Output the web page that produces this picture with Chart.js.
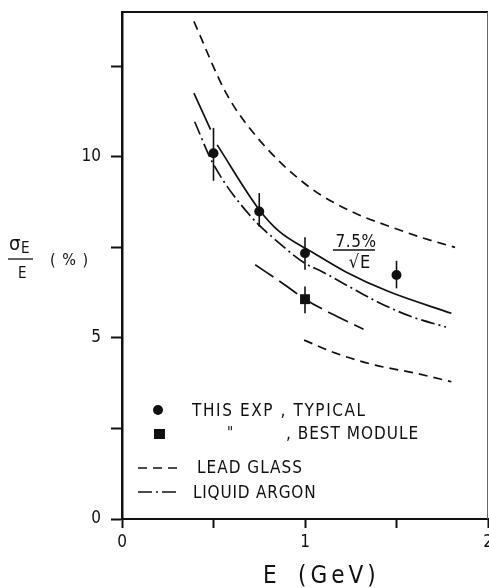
<!DOCTYPE html>
<html>
<head>
<meta charset="utf-8">
<script src="https://cdn.jsdelivr.net/npm/chart.js@4.4.1/dist/chart.umd.min.js"></script>
<style>
  html, body { margin: 0; padding: 0; background: #fff; }
  canvas { display: block; }
</style>
</head>
<body>
<canvas id="chart" width="489" height="588"></canvas>
<script>
// ── Data ──────────────────────────────────────────────────────
const xTickValues = [0, 0.5, 1, 1.5, 2];
const xTickLabels = ['0', '', '1', '', '2'];
const yTickValues = [0, 2.5, 5, 7.5, 10, 12.5];
const yTickLabels = ['0', '', '5', '', '10', ''];

// measured points, this experiment (typical modules)
const typicalE  = [0.5, 0.75, 1.0, 1.5];
const typicalV  = [10.10, 8.49, 7.34, 6.74];
const typicalLo = [9.34, 8.07, 6.88, 6.37];
const typicalHi = [10.80, 9.00, 7.78, 7.13];

// best module
const bestE  = [1.0];
const bestV  = [6.07];
const bestLo = [5.68];
const bestHi = [6.42];

// 7.5%/sqrt(E) curve (solid, broken at the first error bar)
const solidE = [0.393, 0.484, 0.50, 0.52, 0.75, 0.859, 1.049, 1.221, 1.457, 1.80];
const solidV = [11.76, 10.75, null, 10.33, 8.54, 7.94, 7.34, 6.83, 6.28, 5.68];

// liquid argon (dash-dot)
const argonE = [0.397, 0.496, 0.696, 0.859, 1.0, 1.094, 1.24, 1.402, 1.58, 1.77];
const argonV = [10.97, 9.83, 8.40, 7.62, 7.06, 6.83, 6.42, 5.98, 5.59, 5.30];

// lead glass, upper and lower (dashed)
const glassHiE = [0.393, 0.569, 0.75, 1.02, 1.275, 1.44, 1.62, 1.82];
const glassHiV = [13.74, 11.76, 10.47, 9.18, 8.44, 8.12, 7.80, 7.50];
const glassLoE = [0.995, 1.167, 1.384, 1.60, 1.80];
const glassLoV = [4.94, 4.58, 4.25, 4.03, 3.79];

// best module fit (long dashes)
const bestFitE = [0.728, 0.877, 1.0, 1.14, 1.32];
const bestFitV = [7.02, 6.51, 6.07, 5.68, 5.24];

// ── Helpers ───────────────────────────────────────────────────
const FONT = "'Liberation Sans Narrow', 'DejaVu Sans Condensed', 'Liberation Sans', sans-serif";
const INK = '#111';
const pts = (xs, ys) => xs.map((x, i) => ({ x, y: ys[i] }));

const curve = (data, dash) => ({
  data, showLine: true, pointRadius: 0, borderColor: INK, borderWidth: 1.7,
  borderDash: dash, cubicInterpolationMode: 'monotone', spanGaps: false, fill: false,
});

// ── Plugins: error bars, frame, texts ─────────────────────────
const errorBars = {
  id: 'errorBars',
  beforeDatasetsDraw(chart) {
    const { ctx, scales: { x, y } } = chart;
    ctx.save();
    ctx.strokeStyle = INK;
    ctx.lineWidth = 1.6;
    const draw = (es, lo, hi) => es.forEach((e, i) => {
      const px = x.getPixelForValue(e);
      ctx.beginPath();
      ctx.moveTo(px, y.getPixelForValue(lo[i]));
      ctx.lineTo(px, y.getPixelForValue(hi[i]));
      ctx.stroke();
    });
    draw(typicalE, typicalLo, typicalHi);
    draw(bestE, bestLo, bestHi);
    ctx.restore();
  },
};

function text(ctx, str, x, y, size, spacing = 0, align = 'left') {
  ctx.font = `${size}px ${FONT}`;
  ctx.letterSpacing = spacing + 'px';
  ctx.textAlign = align;
  ctx.fillText(str, x, y);
}

const decorations = {
  id: 'decorations',
  afterDraw(chart) {
    const { ctx, chartArea: a } = chart;
    ctx.save();
    ctx.fillStyle = INK;
    ctx.strokeStyle = INK;
    ctx.textBaseline = 'alphabetic';

    // frame: top and right
    ctx.lineWidth = 2;
    ctx.beginPath();
    ctx.moveTo(a.left, a.top);
    ctx.lineTo(a.right, a.top);
    ctx.stroke();
    ctx.strokeStyle = '#666';
    ctx.lineWidth = 1;
    ctx.beginPath();
    ctx.moveTo(a.right - 0.5, a.top);
    ctx.lineTo(a.right - 0.5, a.bottom);
    ctx.stroke();
    ctx.strokeStyle = INK;

    // legend
    ctx.beginPath();
    ctx.arc(158, 410, 5, 0, Math.PI * 2);
    ctx.fill();
    ctx.fillRect(154, 429, 11, 10);
    text(ctx, 'THIS EXP , TYPICAL', 192, 416, 17, 1.6);
    text(ctx, '"', 227, 438, 15);
    text(ctx, ', BEST MODULE', 286, 439, 17, 1.0);
    text(ctx, 'LEAD GLASS', 197, 473, 17, 1.0);
    text(ctx, 'LIQUID ARGON', 193, 498, 17, 0.8);

    ctx.lineWidth = 1.5;
    ctx.setLineDash([9, 6]);
    ctx.beginPath();
    ctx.moveTo(138, 468); ctx.lineTo(180, 468);
    ctx.stroke();
    ctx.setLineDash([14, 4, 2, 4]);
    ctx.beginPath();
    ctx.moveTo(138, 492); ctx.lineTo(178, 492);
    ctx.stroke();
    ctx.setLineDash([]);

    // curve label 7.5% / sqrt(E)
    text(ctx, '7.5%', 356, 247, 17, 0.5, 'center');
    ctx.lineWidth = 1.5;
    ctx.beginPath();
    ctx.moveTo(333, 250); ctx.lineTo(375, 250);
    ctx.stroke();
    text(ctx, '\u221AE', 360, 268, 18, 1, 'center');

    // y-axis title: sigma_E / E (%)
    text(ctx, '\u03C3', 9, 250, 20);
    text(ctx, 'E', 21, 253, 15);
    ctx.lineWidth = 1.3;
    ctx.beginPath();
    ctx.moveTo(8, 259); ctx.lineTo(33, 259);
    ctx.stroke();
    text(ctx, 'E', 18, 278, 15);
    text(ctx, '( % )', 50, 265, 16, 1);

    // x-axis title
    text(ctx, 'E', 263, 583, 24);
    text(ctx, '(GeV)', 298, 583, 24, 4);
    ctx.restore();
  },
};

// ── Chart ─────────────────────────────────────────────────────
Chart.defaults.font.family = FONT;
Chart.defaults.color = INK;

new Chart(document.getElementById('chart'), {
  type: 'scatter',
  data: {
    datasets: [
      curve(pts(solidE, solidV), []),
      curve(pts(argonE, argonV), [14, 4, 2, 4]),
      curve(pts(glassHiE, glassHiV), [9, 6]),
      curve(pts(glassLoE, glassLoV), [9, 6]),
      curve(pts(bestFitE, bestFitV), [22, 7]),
      {
        data: pts(typicalE, typicalV), pointStyle: 'circle', pointRadius: 5,
        backgroundColor: INK, borderWidth: 0,
      },
      {
        data: pts(bestE, bestV), pointStyle: 'rect', pointRadius: 7,
        backgroundColor: INK, borderWidth: 0,
      },
    ],
  },
  options: {
    responsive: false, animation: false, events: [],
    devicePixelRatio: 1,
    layout: { autoPadding: false, padding: { top: 12, right: 1, left: 0, bottom: 0 } },
    plugins: { legend: { display: false }, tooltip: { enabled: false } },
    scales: {
      x: {
        type: 'linear', min: 0, max: 2,
        afterFit: s => { s.height = 69; s.paddingLeft = 0; s.paddingRight = 0; },
        afterBuildTicks: s => { s.ticks = xTickValues.map(value => ({ value })); },
        ticks: {
          padding: 4, font: { size: 17 }, maxRotation: 0,
          callback: v => xTickLabels[xTickValues.indexOf(v)] ?? '',
        },
        grid: { drawOnChartArea: false, drawTicks: true, tickLength: 9, tickWidth: 2, tickColor: INK },
        border: { display: true, color: INK, width: 2 },
      },
      y: {
        type: 'linear', min: 0, max: 14,
        afterFit: s => { s.width = 122; s.paddingTop = 0; s.paddingBottom = 0; },
        afterBuildTicks: s => { s.ticks = yTickValues.map(value => ({ value })); },
        ticks: {
          padding: 10, font: { size: 17 },
          callback: v => yTickLabels[yTickValues.indexOf(v)] ?? '',
        },
        grid: { drawOnChartArea: false, drawTicks: true, tickLength: 11, tickWidth: 2, tickColor: INK },
        border: { display: true, color: INK, width: 2.5 },
      },
    },
  },
  plugins: [errorBars, decorations],
});
</script>
</body>
</html>
